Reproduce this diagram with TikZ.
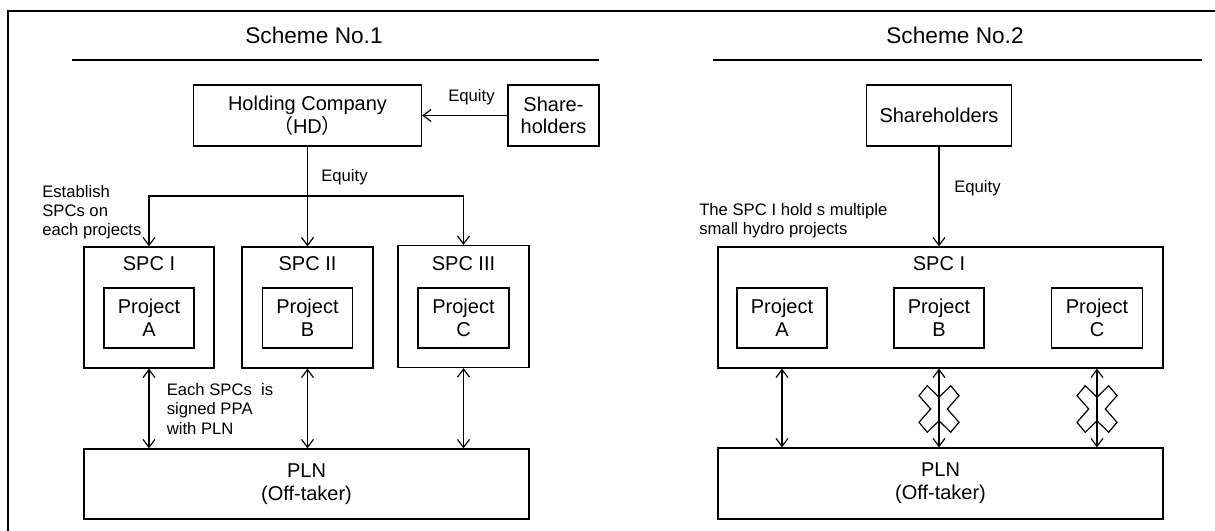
\documentclass[tikz,border=0pt]{standalone}
\usepackage{fontspec}
\setmainfont{Liberation Sans}
\newfontfamily\cjk{Noto Sans CJK SC}
\usetikzlibrary{arrows.meta}
\begin{document}
\begin{tikzpicture}[x=0.75pt,y=-0.75pt,
  box/.style={draw, line width=0.9pt, inner sep=0pt, align=center, font=\fontsize{15}{17}\selectfont},
  wh/.style 2 args={minimum width=#1*0.75pt, minimum height=#2*0.75pt},
  lbl/.style={inner sep=0pt, font=\fontsize{15}{17}\selectfont},
  ttl/.style={inner sep=0pt, font=\fontsize{17}{20}\selectfont},
  note/.style={inner sep=0pt, align=left, font=\fontsize{12.5}{14.3}\selectfont},
  con/.style={line width=0.9pt},
  tip/.style={-{Straight Barb[length=6pt,width=9pt,line width=0.9pt]}},
  tips/.style={{Straight Barb[length=6pt,width=9pt,line width=0.9pt]}-{Straight Barb[length=6pt,width=9pt,line width=0.9pt]}},
  frame/.style={line width=1.5pt},
  rule/.style={line width=1.2pt},
  cross/.style={line width=0.9pt}
]
\useasboundingbox (0,0) rectangle (1215,531);
% outer frame
\draw[frame] (7.7,531) -- (7.7,11) -- (1215,11);

% ---------------- Scheme No.1 ----------------
\node[ttl] (t1) at (314,35) {Scheme No.1};
\draw[rule] (72,60) -- (599,60);

\node[box, wh={228}{61}] (hd) at (307.5,115.5) {Holding Company\\{\cjk （}HD{\cjk ）}};
\node[box, wh={91}{61}] (sh1) at (553.5,115.5) {Share-\\holders};
\draw[con, tip] (sh1.west) -- (hd.east);
\node[note, anchor=base] (eq1) at (471.5,102) {Equity};

\node[box, wh={130}{121}] (s1) at (149,307.5) {};
\node[box, wh={131}{121}] (s2) at (307.5,307.5) {};
\node[box, wh={131}{122}] (s3) at (463.5,306.5) {};
\node[lbl] (s1t) at (149,264) {SPC I};
\node[lbl] (s2t) at (307.5,264) {SPC II};
\node[lbl] (s3t) at (463.5,264) {SPC III};
\node[box, wh={90}{60}] (pa) at (149,318) {Project\\A};
\node[box, wh={90}{60}] (pb) at (307.5,318) {Project\\B};
\node[box, wh={91}{60}] (pc) at (463.5,318) {Project\\C};

\coordinate (j) at (307.5,196);
\draw[con] (hd.south) -- (j);
\draw[con, tip] (j) -| (s1.north);
\draw[con, tip] (j) -- (s2.north);
\draw[con, tip] (j) -| (s3.north);
\node[note, anchor=base west] (eq2) at (321,182) {Equity};
\node[note, anchor=west] (est) at (42,212) {Establish\\SPCs on\\each projects};

\node[box, wh={445}{70}] (pln1) at (306.5,484) {PLN\\(Off-taker)};
\draw[con, tips] (s1.south) -- (s1.south |- pln1.north);
\draw[con, tips] (s2.south) -- (s2.south |- pln1.north);
\draw[con, tips] (s3.south) -- (s3.south |- pln1.north);
\node[note, anchor=west] (ppa) at (166.5,409) {Each SPCs\ \ is\\signed PPA\\with PLN};

% ---------------- Scheme No.2 ----------------
\node[ttl] (t2) at (955,35) {Scheme No.2};
\draw[rule] (712.6,60) -- (1202,60);

\node[box, wh={145}{61}] (sh2) at (939,115.5) {Shareholders};
\node[box, wh={445}{121}] (spc) at (940.5,307.5) {};
\node[lbl] (spct) at (939,264) {SPC I};
\draw[con, tip] (sh2.south) -- (sh2.south |- spc.north);
\node[note, anchor=base west] (eq3) at (954,193) {Equity};
\node[note, anchor=west] (hold) at (699,221) {The SPC I hold s multiple\\small hydro projects};

\node[box, wh={90}{60}] (qa) at (782,318) {Project\\A};
\node[box, wh={90}{60}] (qb) at (939,318) {Project\\B};
\node[box, wh={91}{60}] (qc) at (1097,318) {Project\\C};

\node[box, wh={445}{71}] (pln2) at (940.5,483.5) {PLN\\(Off-taker)};
\draw[con, tips] (qa.south |- spc.south) -- (qa.south |- pln2.north);
\draw[con, tips] (qb.south |- spc.south) -- (qb.south |- pln2.north);
\draw[con, tips] (qc.south |- spc.south) -- (qc.south |- pln2.north);

\foreach \cx in {939,1097}{
  \draw[cross, shift={(\cx,409)}]
    (-11.7,-23.3) -- (0,-11.7) -- (11.7,-23.3) -- (20,-13.3) -- (8.3,0) -- (20,13.3)
    -- (11.7,23.3) -- (0,11.7) -- (-11.7,23.3) -- (-20,13.3) -- (-8.3,0) -- (-20,-13.3) -- cycle;
}
\end{tikzpicture}
\end{document}
